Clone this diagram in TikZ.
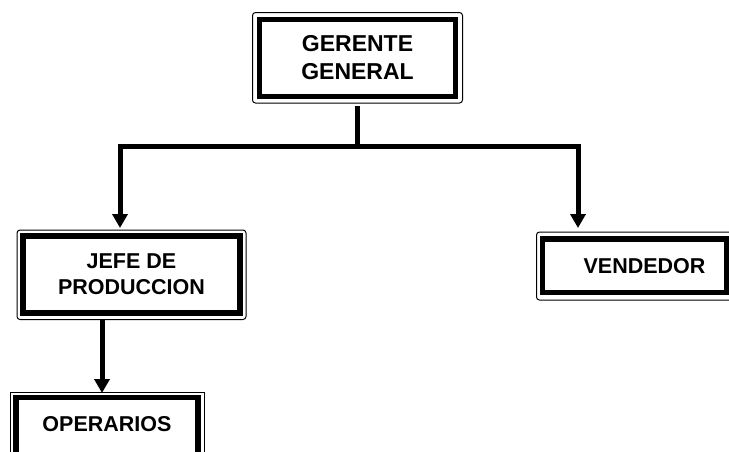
\documentclass[tikz,border=0pt]{standalone}
\usepackage{fontspec}
\setmainfont{Liberation Sans}
\usetikzlibrary{arrows.meta}
\tikzset{
  box/.style={draw, line width=5.5pt, outer sep=0pt, inner sep=0pt, align=center,
    font=\bfseries\fontsize{21.5}{26}\selectfont},
  thinframe/.style={draw, line width=1pt, rounded corners=3pt},
  conn/.style={line width=5pt, line join=miter},
  tip/.style={-{Triangle[width=15pt,length=14pt]}},
}
\begin{document}
\begin{tikzpicture}[x=1pt,y=-1pt]
\useasboundingbox (0,0) rectangle (729,451);
\clip (0,0) rectangle (729,451);

% nodes
\node[box, minimum width=196pt, minimum height=77pt, font=\bfseries\fontsize{23}{28}\selectfont]
  (g) at (357.5,58) {GERENTE\\GENERAL};
\node[box, minimum width=217pt, minimum height=77pt] (j) at (131.5,274.5) {JEFE DE\\PRODUCCION};
\node[box, minimum width=184pt, minimum height=53.5pt] (v) at (634.5,265.75) {\hspace{20pt}VENDEDOR};
\node[box, minimum width=182pt, minimum height=77pt,
  label={[yshift=12pt, font=\bfseries\fontsize{21.5}{26}\selectfont]center:OPERARIOS}] (o) at (107,436) {};

% thin outer frames
\draw[thinframe] ([shift={(-7pt,7pt)}]g.north west) rectangle ([shift={(7pt,-6.5pt)}]g.south east);
\draw[thinframe] ([shift={(-6pt,6pt)}]j.north west) rectangle ([shift={(6pt,-6.5pt)}]j.south east);
\draw[thinframe] ([shift={(-6pt,7pt)}]v.north west) rectangle ([shift={(6pt,-7.5pt)}]v.south east);
\draw[line width=1pt] ([shift={(-6pt,5.5pt)}]o.north west) rectangle ([shift={(6pt,-6pt)}]o.south east);

% connectors
\coordinate (bus) at (357.5,146);
\draw[conn] ([yshift=-9.5pt]g.south) -- (bus);
\draw[conn, {Triangle[width=15pt,length=14pt]}-{Triangle[width=15pt,length=14pt]}]
  ([xshift=-11.5pt,yshift=8pt]j.north) |- (bus) -| ([xshift=-56.5pt,yshift=11pt]v.north);
\draw[conn, tip] ([xshift=-29.5pt,yshift=-6.5pt]j.south) -- ([xshift=-5pt,yshift=4.5pt]o.north);
\end{tikzpicture}
\end{document}
